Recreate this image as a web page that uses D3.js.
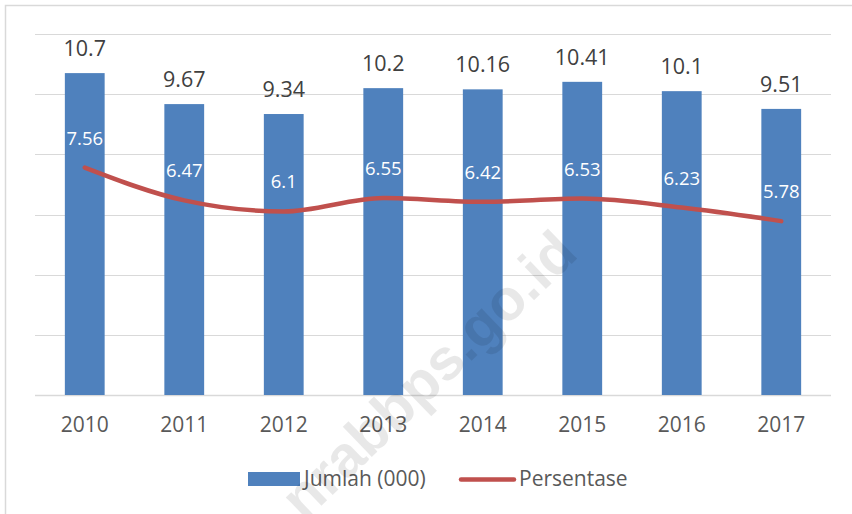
<!DOCTYPE html>
<html>
<head>
<meta charset="utf-8">
<script src="https://cdn.jsdelivr.net/npm/d3@7"></script>
<style>
  body { margin: 0; background: #fff; }
  svg { display: block; font-family: "Open Sans", sans-serif; }
</style>
</head>
<body>
<div id="chart"></div>
<script>
var years = ['2010', '2011', '2012', '2013', '2014', '2015', '2016', '2017']
var jumlah = [10.7, 9.67, 9.34, 10.2, 10.16, 10.41, 10.1, 9.51]
var persentase = [7.56, 6.47, 6.1, 6.55, 6.42, 6.53, 6.23, 5.78]
var yTicks = [0, 2, 4, 6, 8, 10, 12]

var W = 852, H = 514
var svg = d3.select('#chart').append('svg')
            .attr('width', W)
            .attr('height', H)

// chart frame (runs off the right/bottom edge like the original)
svg.append('rect')
   .attr('x', 5.5).attr('y', 5.5)
   .attr('width', W).attr('height', H)
   .attr('fill', '#fff')
   .attr('stroke', '#d9d9d9')
   .attr('stroke-width', 1.5)

var x = d3.scaleBand().domain(years).range([35, 831])
          .paddingInner(0.6).paddingOuter(0.3)
var y = d3.scaleLinear().domain([0, 12]).range([395, 34])

// gridlines
svg.append('g').selectAll('line')
   .data(yTicks)
   .enter().append('line')
   .attr('x1', 35).attr('x2', 831)
   .attr('y1', function (d) { return Math.round(y(d)) + 0.5 })
   .attr('y2', function (d) { return Math.round(y(d)) + 0.5 })
   .attr('stroke', '#d9d9d9')
   .attr('stroke-width', function (d) { return d === 0 ? 1.5 : 1.2 })

// bars
svg.append('g').selectAll('rect')
   .data(jumlah)
   .enter().append('rect')
   .attr('x', function (d, i) { return x(years[i]) })
   .attr('y', function (d) { return y(d) })
   .attr('width', x.bandwidth())
   .attr('height', function (d) { return y(0) - y(d) })
   .attr('fill', '#4f81bd')

// x axis labels
var xAxis = d3.axisBottom(x).tickSize(0).tickPadding(0)
var gx = svg.append('g').attr('transform', 'translate(0,' + 417 + ')').call(xAxis)
gx.select('.domain').remove()
gx.selectAll('text')
  .attr('font-family', '"Open Sans", sans-serif')
  .attr('font-size', 21)
  .attr('fill', '#595959')

// bar value labels
svg.append('g').selectAll('text')
   .data(jumlah)
   .enter().append('text')
   .attr('x', function (d, i) { return x(years[i]) + x.bandwidth() / 2 })
   .attr('y', function (d) { return y(d) - 17 })
   .attr('text-anchor', 'middle')
   .attr('font-size', 21.5)
   .attr('fill', '#404040')
   .text(function (d) { return d })

// percentage line
var line = d3.line()
             .x(function (d, i) { return x(years[i]) + x.bandwidth() / 2 })
             .y(function (d) { return y(d) })
             .curve(d3.curveMonotoneX)
svg.append('path')
   .datum(persentase)
   .attr('d', line)
   .attr('fill', 'none')
   .attr('stroke', '#c0504d')
   .attr('stroke-width', 4.5)
   .attr('stroke-linecap', 'round')
   .attr('stroke-linejoin', 'round')

// line value labels
svg.append('g').selectAll('text')
   .data(persentase)
   .enter().append('text')
   .attr('x', function (d, i) { return x(years[i]) + x.bandwidth() / 2 })
   .attr('y', function (d) { return y(d) - 23 })
   .attr('text-anchor', 'middle')
   .attr('font-size', 18.5)
   .attr('fill', '#fff')
   .text(function (d) { return d })

// legend
var lg = svg.append('g')
lg.append('rect')
  .attr('x', 248).attr('y', 472).attr('width', 52).attr('height', 14)
  .attr('fill', '#4f81bd')
lg.append('text')
  .attr('x', 304).attr('y', 486)
  .attr('font-size', 21).attr('fill', '#595959')
  .text('Jumlah (000)')
lg.append('line')
  .attr('x1', 461).attr('x2', 514).attr('y1', 479.5).attr('y2', 479.5)
  .attr('stroke', '#c0504d').attr('stroke-width', 4.5)
  .attr('stroke-linecap', 'round')
lg.append('text')
  .attr('x', 519).attr('y', 486)
  .attr('font-size', 21).attr('fill', '#595959')
  .text('Persentase')

// faint watermark laid over the chart
svg.append('text')
   .attr('transform', 'translate(580,256) rotate(-44)')
   .attr('text-anchor', 'end')
   .attr('font-family', '"Liberation Sans", Arial, sans-serif')
   .attr('font-weight', 'bold')
   .attr('font-size', 58)
   .attr('fill', '#000')
   .attr('fill-opacity', 0.09)
   .text('nrabbps.go.id')
</script>
</body>
</html>
